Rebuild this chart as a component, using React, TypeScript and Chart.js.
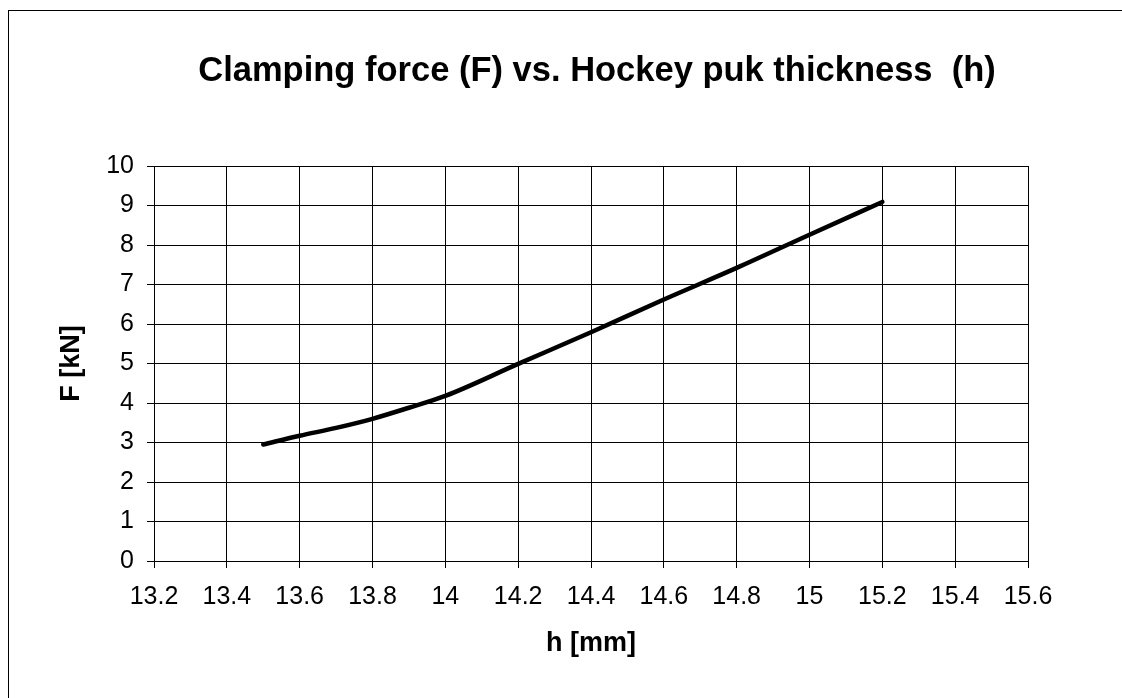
import React, { useEffect, useRef } from "react";
import { Chart, registerables } from "chart.js";

Chart.register(...registerables);

const thicknessMm = [13.5, 13.6, 13.7, 13.8, 13.9, 14.0, 14.2, 14.4, 14.6, 14.8, 15.0, 15.2];
const forceKN = [2.95, 3.17, 3.37, 3.6, 3.88, 4.18, 4.99, 5.79, 6.62, 7.42, 8.26, 9.09];
const xTickValues = [13.2, 13.4, 13.6, 13.8, 14.0, 14.2, 14.4, 14.6, 14.8, 15.0, 15.2, 15.4, 15.6];
const yTickValues = [0, 1, 2, 3, 4, 5, 6, 7, 8, 9, 10];
const chartTitle = "Clamping force (F) vs. Hockey puk thickness  (h)";
const xAxisTitle = "h [mm]";
const yAxisTitle = "F [kN]";

const FONT = "'Liberation Sans', Arial, sans-serif";

export default function App() {
  const canvasRef = useRef<HTMLCanvasElement | null>(null);

  useEffect(() => {
    if (!canvasRef.current) return;
    const chart = new Chart(canvasRef.current, {
      type: "line",
      data: {
        datasets: [
          {
            data: thicknessMm.map((x, i) => ({ x, y: forceKN[i] })),
            borderColor: "#000",
            backgroundColor: "#000",
            borderWidth: 4.5,
            pointRadius: 0,
            cubicInterpolationMode: "monotone",
            fill: false,
            borderCapStyle: "round",
            borderJoinStyle: "round",
            xAxisID: "x",
            yAxisID: "y",
          },
        ],
      },
      options: {
        animation: false,
        responsive: false,
        devicePixelRatio: 1,
        layout: { padding: { top: 0, left: 0, right: 0, bottom: 50.8 } },
        plugins: {
          legend: { display: false },
          tooltip: { enabled: false },
          title: {
            display: true,
            text: chartTitle,
            color: "#000",
            font: { family: FONT, size: 34.5, weight: "bold", lineHeight: 1.2 },
            padding: { top: 39.8, bottom: 73.8 },
          },
        },
        scales: {
          x: {
            type: "linear",
            position: "bottom",
            min: 13.2,
            max: 15.6,
            afterBuildTicks: (s: any) => {
              s.ticks = xTickValues.map((v) => ({ value: v }));
            },
            afterFit: (s: any) => {
              s.height = 99.2;
            },
            ticks: {
              color: "#000",
              font: { family: FONT, size: 25 },
              padding: 14,
              autoSkip: false,
              maxRotation: 0,
              callback: (v: any) => String(Number(Number(v).toFixed(1))),
            },
            grid: { color: "#000", lineWidth: 1, tickLength: 7, drawTicks: true },
            border: { color: "#000", width: 1 },
            title: {
              display: true,
              text: xAxisTitle,
              color: "#000",
              font: { family: FONT, size: 27, weight: "bold", lineHeight: 1.2 },
              padding: { top: 0, bottom: 0 },
            },
          },
          y: {
            type: "linear",
            position: "left",
            min: 0,
            max: 10,
            afterBuildTicks: (s: any) => {
              s.ticks = yTickValues.map((v) => ({ value: v }));
            },
            afterFit: (s: any) => {
              s.width = 145;
            },
            ticks: {
              color: "#000",
              font: { family: FONT, size: 25 },
              padding: 13,
              autoSkip: false,
              callback: (v: any) => String(v),
            },
            grid: { color: "#000", lineWidth: 1, tickLength: 7, drawTicks: true },
            border: { color: "#000", width: 1 },
            title: {
              display: true,
              text: yAxisTitle,
              color: "#000",
              font: { family: FONT, size: 27, weight: "bold", lineHeight: 1.2 },
              padding: { top: 46.8, bottom: 0 },
            },
          },
          y2: {
            type: "linear",
            position: "right",
            display: true,
            grid: { display: false, drawTicks: false },
            border: { display: false },
            ticks: { display: false },
            afterFit: (s: any) => {
              s.width = 157;
            },
          },
        },
      },
    } as any);
    return () => chart.destroy();
  }, []);

  return (
    <div
      style={{
        position: "absolute",
        left: 0,
        top: 0,
        width: 1122,
        height: 698,
        overflow: "hidden",
        background: "#fff",
      }}
    >
      <div
        style={{
          position: "absolute",
          left: 8,
          top: 10,
          width: 1176,
          height: 700,
          borderLeft: "1px solid #000",
          borderTop: "1px solid #000",
          background: "#fff",
        }}
      >
        <canvas
          ref={canvasRef}
          width={1176}
          height={700}
          style={{ display: "block", width: 1176, height: 700 }}
        />
      </div>
    </div>
  );
}
